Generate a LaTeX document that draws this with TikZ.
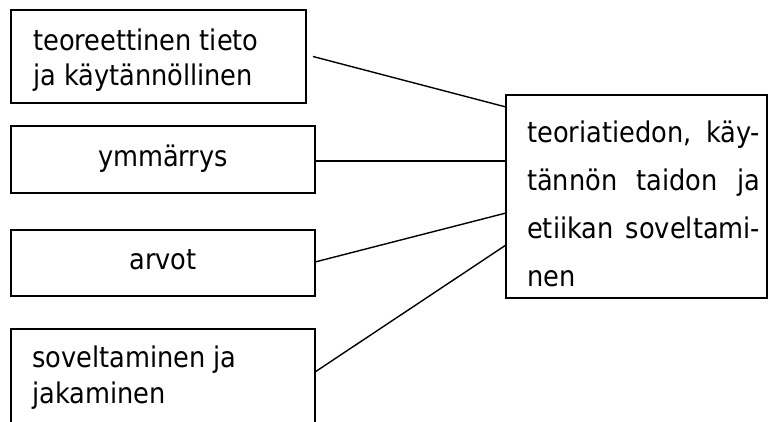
\documentclass[tikz,border=0pt]{standalone}
\usepackage{fontspec}
\setmainfont{DejaVu Sans Condensed}
\begin{document}
\begin{tikzpicture}[x=1pt,y=-1pt,
  box/.style={draw, line width=1.1pt, inner sep=0pt, outer sep=0pt, anchor=north west},
  lbl/.style={anchor=base west, inner sep=0pt, font=\fontsize{28.5}{35}\selectfont},
  link/.style={line width=1.4pt}]
\clip (0,0) rectangle (769,421);
% boxes
\node[box, minimum width=295pt, minimum height=93pt] (b1) at (11,10) {};
\node[box, minimum width=304pt, minimum height=67pt] (b2) at (11,126) {};
\node[box, minimum width=304pt, minimum height=66pt] (b3) at (11,230) {};
\node[box, minimum width=304pt, minimum height=100pt] (b4) at (11,329) {};
\node[box, minimum width=261pt, minimum height=203pt] (big) at (506,95) {};
% texts
\node[lbl] (t1a) at (33,50) {teoreettinen tieto};
\node[lbl] (t1b) at (33,85) {ja käytännöllinen};
\node[lbl, anchor=base] (t2) at (163,166) {ymmärrys};
\node[lbl, anchor=base] (t3) at (163,269) {arvot};
\node[lbl] (t4a) at (32,367) {soveltaminen ja};
\node[lbl] (t4b) at (32,403) {jakaminen};
\node[lbl] (g1) at (527,142) {\makebox[233pt][s]{teoriatiedon, käy-}};
\node[lbl] (g2) at (527,190) {\makebox[233pt][s]{tännön taidon ja}};
\node[lbl] (g3) at (527,238) {\makebox[233pt][s]{etiikan soveltami-}};
\node[lbl] (g4) at (527,286) {nen};
% connectors
\draw[link] ([xshift=7pt]b1.east) -- ([yshift=-12pt]big.north west);
\draw[link] ([yshift=-1.5pt]b2.east) -- ([yshift=-1.5pt]b2.east -| big.west);
\draw[link] ([yshift=1pt]b3.east) -- ([yshift=-118pt]big.north west);
\draw[link] ([yshift=7pt]b4.east) -- ([yshift=-150pt]big.north west);
\end{tikzpicture}
\end{document}
